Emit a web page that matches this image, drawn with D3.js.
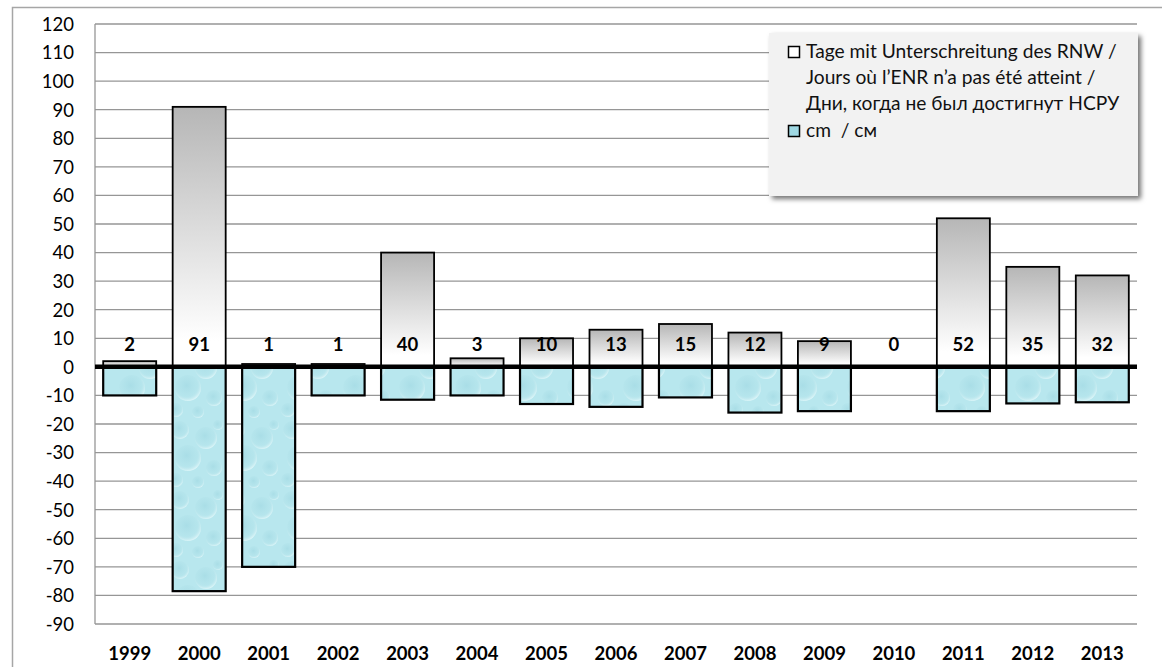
<!DOCTYPE html>
<html><head><meta charset="utf-8">
<script src="https://cdn.jsdelivr.net/npm/d3@7"></script>
<style>body{margin:0;background:#fff}svg{display:block}text{font-family:Lato,"Open Sans",sans-serif}</style>
</head><body>
<script>
const years = ["1999","2000","2001","2002","2003","2004","2005","2006","2007","2008","2009","2010","2011","2012","2013"];
const days = [2,91,1,1,40,3,10,13,15,12,9,0,52,35,32];
const cm = [-10,-78.5,-70,-10,-11.5,-10,-13,-14,-10.7,-16,-15.5,null,-15.5,-12.8,-12.4];
const yTicks = [120,110,100,90,80,70,60,50,40,30,20,10,0,-10,-20,-30,-40,-50,-60,-70,-80,-90];
const legendDays = ["Tage mit Unterschreitung des RNW /","Jours où l’ENR n’a pas été atteint /","Дни, когда не был достигнут НСРУ"];
const legendCm = "cm  / см";

const W=1162,H=667;
const svg=d3.select("body").append("svg").attr("width",W).attr("height",H);
const defs=svg.append("defs");
const g1=defs.append("linearGradient").attr("id","gray").attr("x1",0).attr("y1",0).attr("x2",0).attr("y2",1);
g1.append("stop").attr("offset","0").attr("stop-color","#b6b6b6");
g1.append("stop").attr("offset","0.9").attr("stop-color","#ffffff");
g1.append("stop").attr("offset","1").attr("stop-color","#ffffff");
const rg=defs.append("radialGradient").attr("id","drop").attr("cx","0.45").attr("cy","0.4").attr("r","0.6");
rg.append("stop").attr("offset","0").attr("stop-color","#9ad4df").attr("stop-opacity",0.5);
rg.append("stop").attr("offset","0.7").attr("stop-color","#aee0e8").attr("stop-opacity",0.3);
rg.append("stop").attr("offset","1").attr("stop-color","#e4f8fa").attr("stop-opacity",0.8);
const pat=defs.append("pattern").attr("id","water").attr("patternUnits","userSpaceOnUse").attr("width",56).attr("height",70);
pat.append("rect").attr("width",56).attr("height",70).attr("fill","#b8e7ee");
[[12,10,9],[38,18,11],[20,38,13],[46,48,8],[8,60,7],[30,62,6],[50,5,5]].forEach(d=>{
  pat.append("circle").attr("cx",d[0]).attr("cy",d[1]).attr("r",d[2]).attr("fill","url(#drop)");
});
const flt=defs.append("filter").attr("id","shadow").attr("x","-5%").attr("y","-10%").attr("width","115%").attr("height","130%");
flt.append("feDropShadow").attr("dx",3).attr("dy",3).attr("stdDeviation",2.5).attr("flood-color","#000").attr("flood-opacity",0.55);

// outer border
svg.append("rect").attr("x",12.5).attr("y",7.5).attr("width",1160).attr("height",680).attr("fill","none").attr("stroke","#a6a6a6").attr("stroke-width",1.5);

const x=d3.scaleBand().domain(years).range([95,1137]).paddingInner(0.237).paddingOuter(0.118);
const y=d3.scaleLinear().domain([-90,120]).range([624,24]);

// gridlines
svg.append("g").selectAll("line").data(yTicks).join("line")
  .attr("x1",95).attr("x2",1137).attr("y1",d=>y(d)).attr("y2",d=>y(d))
  .attr("stroke","#969696").attr("stroke-width",1.3);
svg.append("line").attr("x1",95).attr("x2",95).attr("y1",y(120)).attr("y2",y(-90)).attr("stroke","#969696").attr("stroke-width",1.3);

// y labels
svg.append("g").selectAll("text").data(yTicks).join("text")
  .attr("x",74).attr("y",d=>y(d)+6.8).attr("text-anchor","end").attr("font-size",18.5).attr("fill","#000").text(d=>d);

// negative bars
const cmData=years.map((yr,i)=>({yr,v:cm[i]})).filter(d=>d.v!=null);
svg.append("g").selectAll("rect").data(cmData).join("rect")
  .attr("x",d=>x(d.yr)).attr("width",x.bandwidth())
  .attr("y",y(0)).attr("height",d=>y(d.v)-y(0))
  .attr("fill","url(#water)").attr("stroke","#000").attr("stroke-width",2.2);
// positive bars
const dData=years.map((yr,i)=>({yr,v:days[i]})).filter(d=>d.v>0);
svg.append("g").selectAll("rect").data(dData).join("rect")
  .attr("x",d=>x(d.yr)).attr("width",x.bandwidth())
  .attr("y",d=>y(d.v)).attr("height",d=>y(0)-y(d.v))
  .attr("fill","url(#gray)").attr("stroke","#000").attr("stroke-width",1.8);

// zero line
svg.append("line").attr("x1",95).attr("x2",1137).attr("y1",y(0)).attr("y2",y(0)).attr("stroke","#000").attr("stroke-width",4.5);

// data labels
svg.append("g").selectAll("text").data(years).join("text")
  .attr("x",d=>x(d)+x.bandwidth()/2).attr("y",y(8)+6.8).attr("text-anchor","middle")
  .attr("font-size",18.5).attr("font-weight","bold").text((d,i)=>days[i]);

// x labels
svg.append("g").selectAll("text").data(years).join("text")
  .attr("x",d=>x(d)+x.bandwidth()/2).attr("y",660).attr("text-anchor","middle")
  .attr("font-size",18.5).attr("font-weight","bold").text(d=>d);

// legend
const lg=svg.append("g");
lg.append("rect").attr("x",769).attr("y",33).attr("width",369).attr("height",163).attr("fill","#f2f2f2").attr("filter","url(#shadow)");
lg.append("rect").attr("x",788.5).attr("y",46.5).attr("width",11).attr("height",11).attr("fill","#fff").attr("stroke","#000").attr("stroke-width",1.5);
lg.selectAll("text.l").data(legendDays).join("text").attr("class","l")
  .attr("x",806).attr("y",(d,i)=>58+i*26).attr("font-size",19.2).attr("fill","#111").text(d=>d);
lg.append("rect").attr("x",788.5).attr("y",125.5).attr("width",11).attr("height",11).attr("fill","#9fd8e3").attr("stroke","#000").attr("stroke-width",1.5);
lg.append("text").attr("x",806).attr("y",137).attr("font-size",19.2).attr("fill","#111").attr("xml:space","preserve").text(legendCm);
</script>
</body></html>
